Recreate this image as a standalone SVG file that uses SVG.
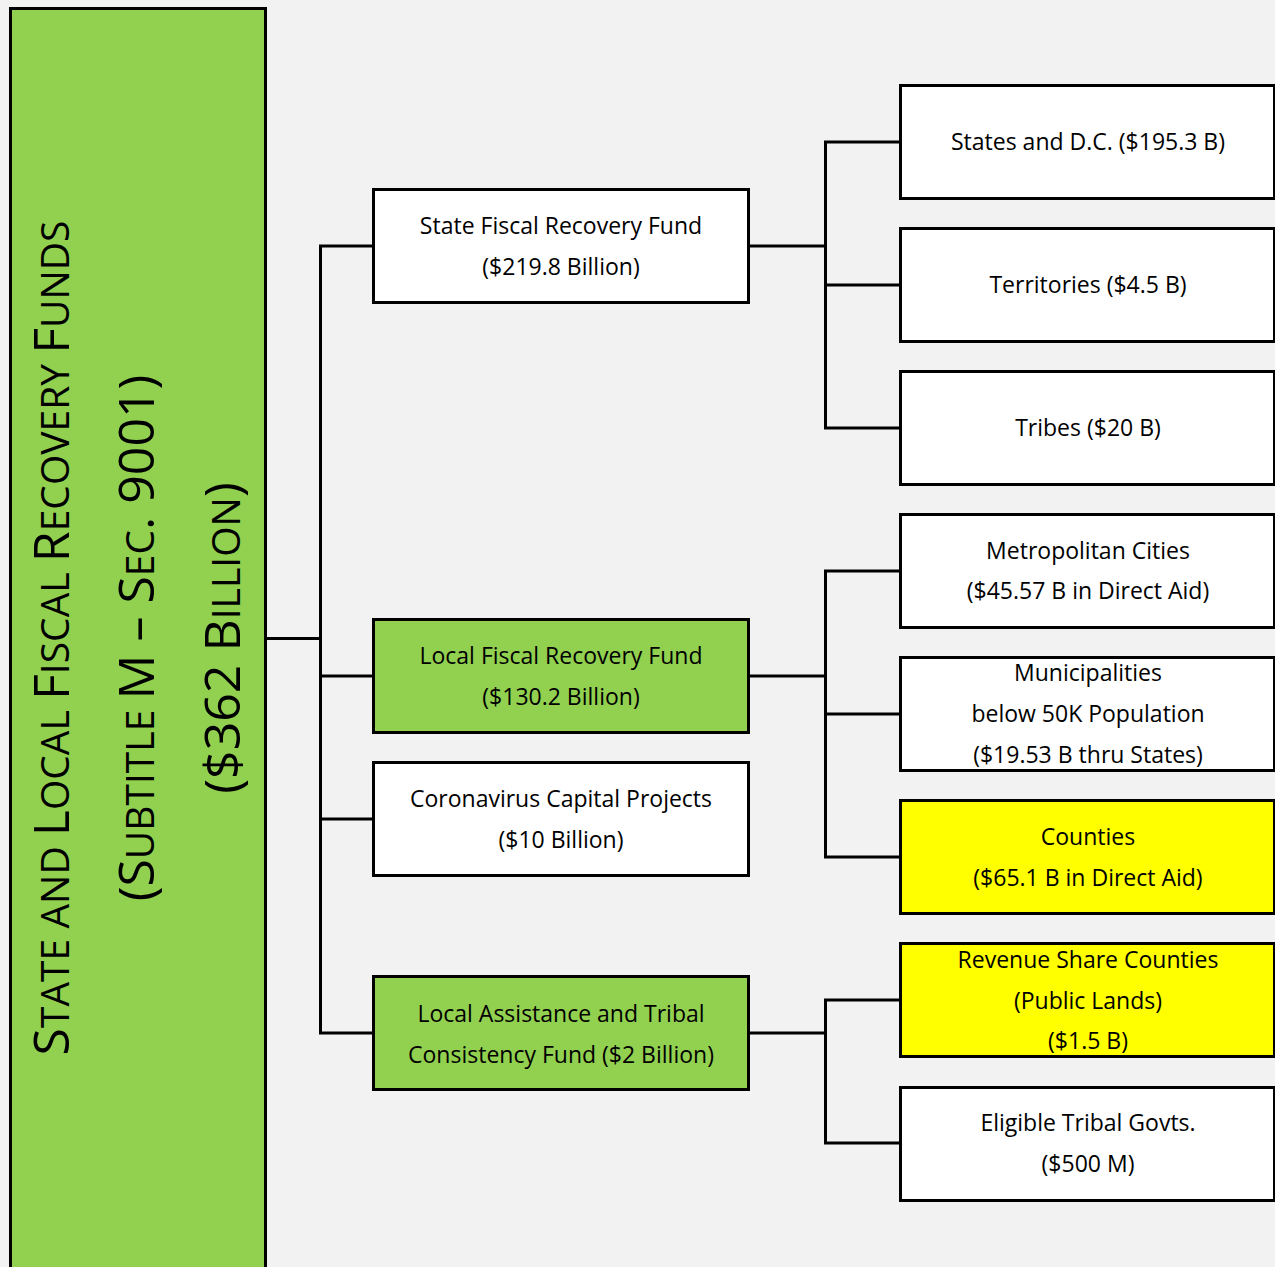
<svg xmlns="http://www.w3.org/2000/svg" width="1275" height="1267" viewBox="0 0 1275 1267">
<style>
.box{stroke:#000;stroke-width:3}
.w{fill:#fff}
.g{fill:#92d050}
.y{fill:#ffff00}
.t{font-family:"Open Sans","Noto Sans",sans-serif;font-size:23px;fill:#000;text-anchor:middle}
.title{font-family:"Open Sans","Noto Sans",sans-serif;fill:#000;text-anchor:middle}
.bc{font-size:50px}
.sc{font-size:39px}
.conn{fill:none;stroke:#000;stroke-width:3}
</style>
<rect x="0" y="0" width="1275" height="1267" fill="#f2f2f2"/>
<g id="connectors">
<path class="conn" d="M266,638.5H320.5M320.5,246V1033M319,246H374M319,676H374M319,819H374M319,1033H374"/>
<path class="conn" d="M749,246H825.5M825.5,142V428M824,142H901M824,285H901M824,428H901"/>
<path class="conn" d="M749,676H825.5M825.5,571V857M824,571H901M824,714H901M824,857H901"/>
<path class="conn" d="M749,1033H825.5M825.5,1000V1143M824,1000H901M824,1143H901"/>
</g>
<g id="root">
<rect class="box g" x="10.5" y="8.5" width="255" height="1300"/>
<text class="title" transform="translate(69,638) rotate(-90)"><tspan class="bc">S</tspan><tspan class="sc">TATE AND </tspan><tspan class="bc">L</tspan><tspan class="sc">OCAL </tspan><tspan class="bc">F</tspan><tspan class="sc">ISCAL </tspan><tspan class="bc">R</tspan><tspan class="sc">ECOVERY </tspan><tspan class="bc">F</tspan><tspan class="sc">UNDS</tspan></text>
<text class="title" transform="translate(154,638) rotate(-90)"><tspan class="bc">(S</tspan><tspan class="sc">UBTITLE </tspan><tspan class="bc">M – S</tspan><tspan class="sc">EC</tspan><tspan class="bc">. 9001)</tspan></text>
<text class="title" transform="translate(240,638) rotate(-90)"><tspan class="bc">($362 B</tspan><tspan class="sc">ILLION</tspan><tspan class="bc">)</tspan></text>
</g>
<g id="state-fund">
<rect class="box w" x="373.5" y="189.5" width="375" height="113"/>
<text class="t" x="561" y="234">State Fiscal Recovery Fund</text>
<text class="t" x="561" y="275">($219.8 Billion)</text>
</g>
<g id="local-fund">
<rect class="box g" x="373.5" y="619.5" width="375" height="113"/>
<text class="t" x="561" y="664">Local Fiscal Recovery Fund</text>
<text class="t" x="561" y="705">($130.2 Billion)</text>
</g>
<g id="capital-projects">
<rect class="box w" x="373.5" y="762.5" width="375" height="113"/>
<text class="t" x="561" y="807">Coronavirus Capital Projects</text>
<text class="t" x="561" y="848">($10 Billion)</text>
</g>
<g id="local-assistance">
<rect class="box g" x="373.5" y="976.5" width="375" height="113"/>
<text class="t" x="561" y="1022">Local Assistance and Tribal</text>
<text class="t" x="561" y="1063">Consistency Fund ($2 Billion)</text>
</g>
<g id="states-dc">
<rect class="box w" x="900.5" y="85.5" width="374" height="113"/>
<text class="t" x="1088" y="150">States and D.C. ($195.3 B)</text>
</g>
<g id="territories">
<rect class="box w" x="900.5" y="228.5" width="374" height="113"/>
<text class="t" x="1088" y="293">Territories ($4.5 B)</text>
</g>
<g id="tribes">
<rect class="box w" x="900.5" y="371.5" width="374" height="113"/>
<text class="t" x="1088" y="436">Tribes ($20 B)</text>
</g>
<g id="metro-cities">
<rect class="box w" x="900.5" y="514.5" width="374" height="113"/>
<text class="t" x="1088" y="559">Metropolitan Cities</text>
<text class="t" x="1088" y="599">($45.57 B in Direct Aid)</text>
</g>
<g id="municipalities">
<rect class="box w" x="900.5" y="657.5" width="374" height="113"/>
<text class="t" x="1088" y="681">Municipalities</text>
<text class="t" x="1088" y="722">below 50K Population</text>
<text class="t" x="1088" y="763">($19.53 B thru States)</text>
</g>
<g id="counties">
<rect class="box y" x="900.5" y="800.5" width="374" height="113"/>
<text class="t" x="1088" y="845">Counties</text>
<text class="t" x="1088" y="886">($65.1 B in Direct Aid)</text>
</g>
<g id="revenue-share">
<rect class="box y" x="900.5" y="943.5" width="374" height="113"/>
<text class="t" x="1088" y="968">Revenue Share Counties</text>
<text class="t" x="1088" y="1009">(Public Lands)</text>
<text class="t" x="1088" y="1049">($1.5 B)</text>
</g>
<g id="tribal-govts">
<rect class="box w" x="900.5" y="1087.5" width="374" height="113"/>
<text class="t" x="1088" y="1131">Eligible Tribal Govts.</text>
<text class="t" x="1088" y="1172">($500 M)</text>
</g>
</svg>
